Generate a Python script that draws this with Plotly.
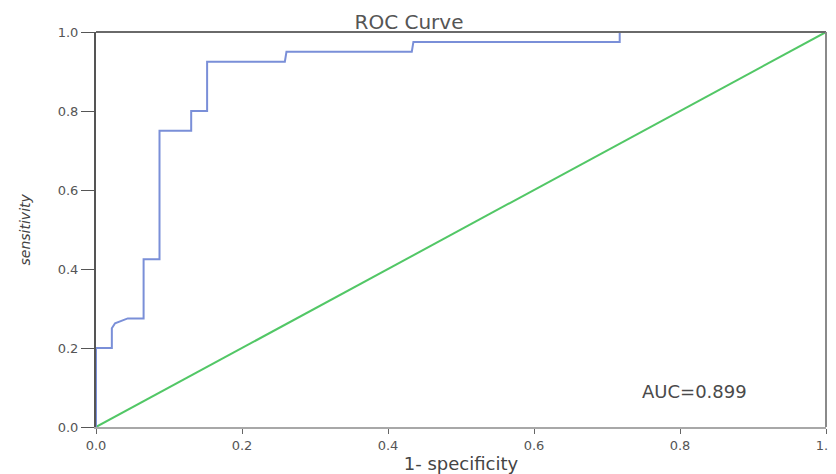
import plotly.graph_objects as go

# ROC curve points (1 - specificity, sensitivity)
fpr = [0.0, 0.0, 0.0217, 0.0217, 0.0261, 0.0435, 0.0652, 0.0652, 0.0870, 0.0870,
       0.1304, 0.1304, 0.1522, 0.1522, 0.2587, 0.2609, 0.4326, 0.4348, 0.7174, 0.7174, 1.0]
tpr = [0.0, 0.2, 0.2, 0.25, 0.2625, 0.275, 0.275, 0.425, 0.425, 0.75,
       0.75, 0.8, 0.8, 0.925, 0.925, 0.95, 0.95, 0.975, 0.975, 1.0, 1.0]
ref_x = [0.0, 1.0]
ref_y = [0.0, 1.0]
tick_vals = [0.0, 0.2, 0.4, 0.6, 0.8, 1.0]
tick_text = ["0.0", "0.2", "0.4", "0.6", "0.8", "1.0"]
auc_label = "AUC=0.899"
y_title = "sensitivity"

FONT = "DejaVu Sans, Verdana, sans-serif"
TXT = "#555555"

# page body has an 8px default margin, so the figure is shifted by 8px
W, H = 828, 466
PLOT_W = 730

fig = go.Figure()
fig.add_trace(go.Scatter(x=ref_x, y=ref_y, mode="lines",
                         line=dict(color="#52c766", width=2), showlegend=False))
fig.add_trace(go.Scatter(x=fpr, y=tpr, mode="lines",
                         line=dict(color="#7a8fd8", width=2), showlegend=False))

fig.add_annotation(x=0.82, y=0.089, xref="x", yref="y", text=auc_label, showarrow=False,
                   font=dict(family=FONT, size=18, color="#4a4a4a"))

# y-axis title placed in the left margin
fig.add_annotation(x=-(96 - 24) / PLOT_W, y=0.5, xref="paper", yref="paper",
                   text="<i>" + y_title + "</i>", textangle=-90, showarrow=False,
                   xanchor="center", yanchor="middle",
                   font=dict(family=FONT, size=14, color="#444444"))

# top and right frame lines
fig.add_shape(type="line", xref="x domain", yref="y domain", x0=0, x1=1, y0=1, y1=1,
              line=dict(color="#6a6a6a", width=2))
fig.add_shape(type="line", xref="x domain", yref="y domain", x0=1, x1=1, y0=0, y1=1,
              line=dict(color="#8a8a8a", width=2))

fig.update_layout(
    width=W, height=H,
    margin=dict(l=88, r=10, t=24, b=47, autoexpand=False),
    paper_bgcolor="white", plot_bgcolor="white",
    font=dict(family=FONT, color=TXT),
    title=dict(text="ROC Curve", x=401 / W, xref="container", xanchor="center",
               y=1 - 14 / H, yref="container", yanchor="middle",
               font=dict(family=FONT, size=20, color="#555555")),
    xaxis=dict(range=[0, 1], tickvals=tick_vals, ticktext=tick_text, automargin=False,
               ticklabeloverflow="allow",
               showgrid=False, zeroline=False, showline=True, linecolor="#a8a8a8", linewidth=2,
               ticks="outside", ticklen=5, tickcolor="#666666", tickwidth=1,
               tickfont=dict(family=FONT, size=13, color=TXT),
               title=dict(text="1- specificity", standoff=6,
                          font=dict(family=FONT, size=18, color="#444444"))),
    yaxis=dict(range=[0, 1], tickvals=tick_vals, ticktext=tick_text, automargin=False,
               ticklabeloverflow="allow",
               showgrid=False, zeroline=False, showline=True, linecolor="#555555", linewidth=2,
               ticks="outside", ticklen=13, tickcolor="#555555", tickwidth=1,
               tickfont=dict(family=FONT, size=13, color=TXT)),
)

fig.write_html("out.html")
